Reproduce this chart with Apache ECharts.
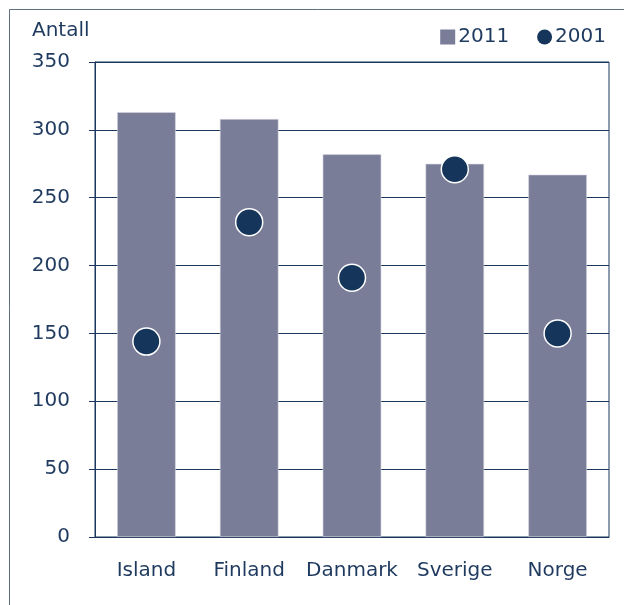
<!DOCTYPE html>
<html>
<head>
<meta charset="utf-8">
<script src="https://cdn.jsdelivr.net/npm/echarts@6/dist/echarts.min.js"></script>
<style>
  html, body { margin: 0; padding: 0; background: #fff; }
  #chart { width: 624px; height: 605px; }
</style>
</head>
<body>
<div id="chart"></div>
<script>
const categories = ['Island', 'Finland', 'Danmark', 'Sverige', 'Norge']
const values2011 = [313, 308, 282, 275, 267]
const values2001 = [144, 232, 191, 271, 150]
const yTicks = [0, 50, 100, 150, 200, 250, 300, 350]

const navy = '#1b365d'
const textColor = '#1f3a5f'
const barColor = '#7a7d98'
const font = 'DejaVu Sans'

const chart = echarts.init(document.getElementById('chart'))

chart.setOption({
  animation: false,
  textStyle: { fontFamily: font },
  graphic: [
    {
      type: 'rect',
      shape: { x: 9.5, y: 9.5, width: 700, height: 700 },
      style: { fill: null, stroke: '#5f6f86', lineWidth: 1 },
      silent: true
    },
    {
      type: 'text',
      left: 32,
      top: 21,
      style: { text: 'Antall', fill: textColor, font: '20px "DejaVu Sans"' }
    }
  ],
  legend: {
    right: 13,
    top: 22,
    itemWidth: 15,
    itemHeight: 15,
    itemGap: 28,
    itemStyle: { borderWidth: 0 },
    textStyle: { color: textColor, fontSize: 20, fontFamily: font, padding: [0, 0, 0, -2] },
    data: [
      { name: '2011', icon: 'rect' },
      { name: '2001', icon: 'circle' }
    ]
  },
  grid: {
    left: 95,
    right: 15,
    top: 62,
    bottom: 68,
    show: true,
    borderColor: navy,
    borderWidth: 1
  },
  xAxis: {
    type: 'category',
    data: categories,
    axisLine: { lineStyle: { color: navy, width: 1 } },
    axisTick: { show: false },
    axisLabel: { color: textColor, fontSize: 20, fontFamily: font, margin: 24, interval: 0, hideOverlap: false }
  },
  yAxis: {
    type: 'value',
    min: yTicks[0],
    max: yTicks[yTicks.length - 1],
    interval: yTicks[1] - yTicks[0],
    axisLine: { show: true, lineStyle: { color: navy, width: 1 } },
    axisTick: { show: true, length: 6, lineStyle: { color: navy } },
    axisLabel: { color: textColor, fontSize: 20, fontFamily: font, margin: 25 },
    splitLine: { lineStyle: { color: navy, width: 1 } }
  },
  series: [
    {
      name: '2011',
      type: 'bar',
      data: values2011,
      barWidth: '57%',
      itemStyle: { color: barColor, borderColor: '#d6d7e0', borderWidth: 0.6 }
    },
    {
      name: '2001',
      type: 'scatter',
      data: values2001,
      symbol: 'circle',
      symbolSize: 27,
      itemStyle: { color: '#15355a', borderColor: '#ffffff', borderWidth: 1.5, opacity: 1 },
      z: 3
    }
  ]
})
</script>
</body>
</html>
